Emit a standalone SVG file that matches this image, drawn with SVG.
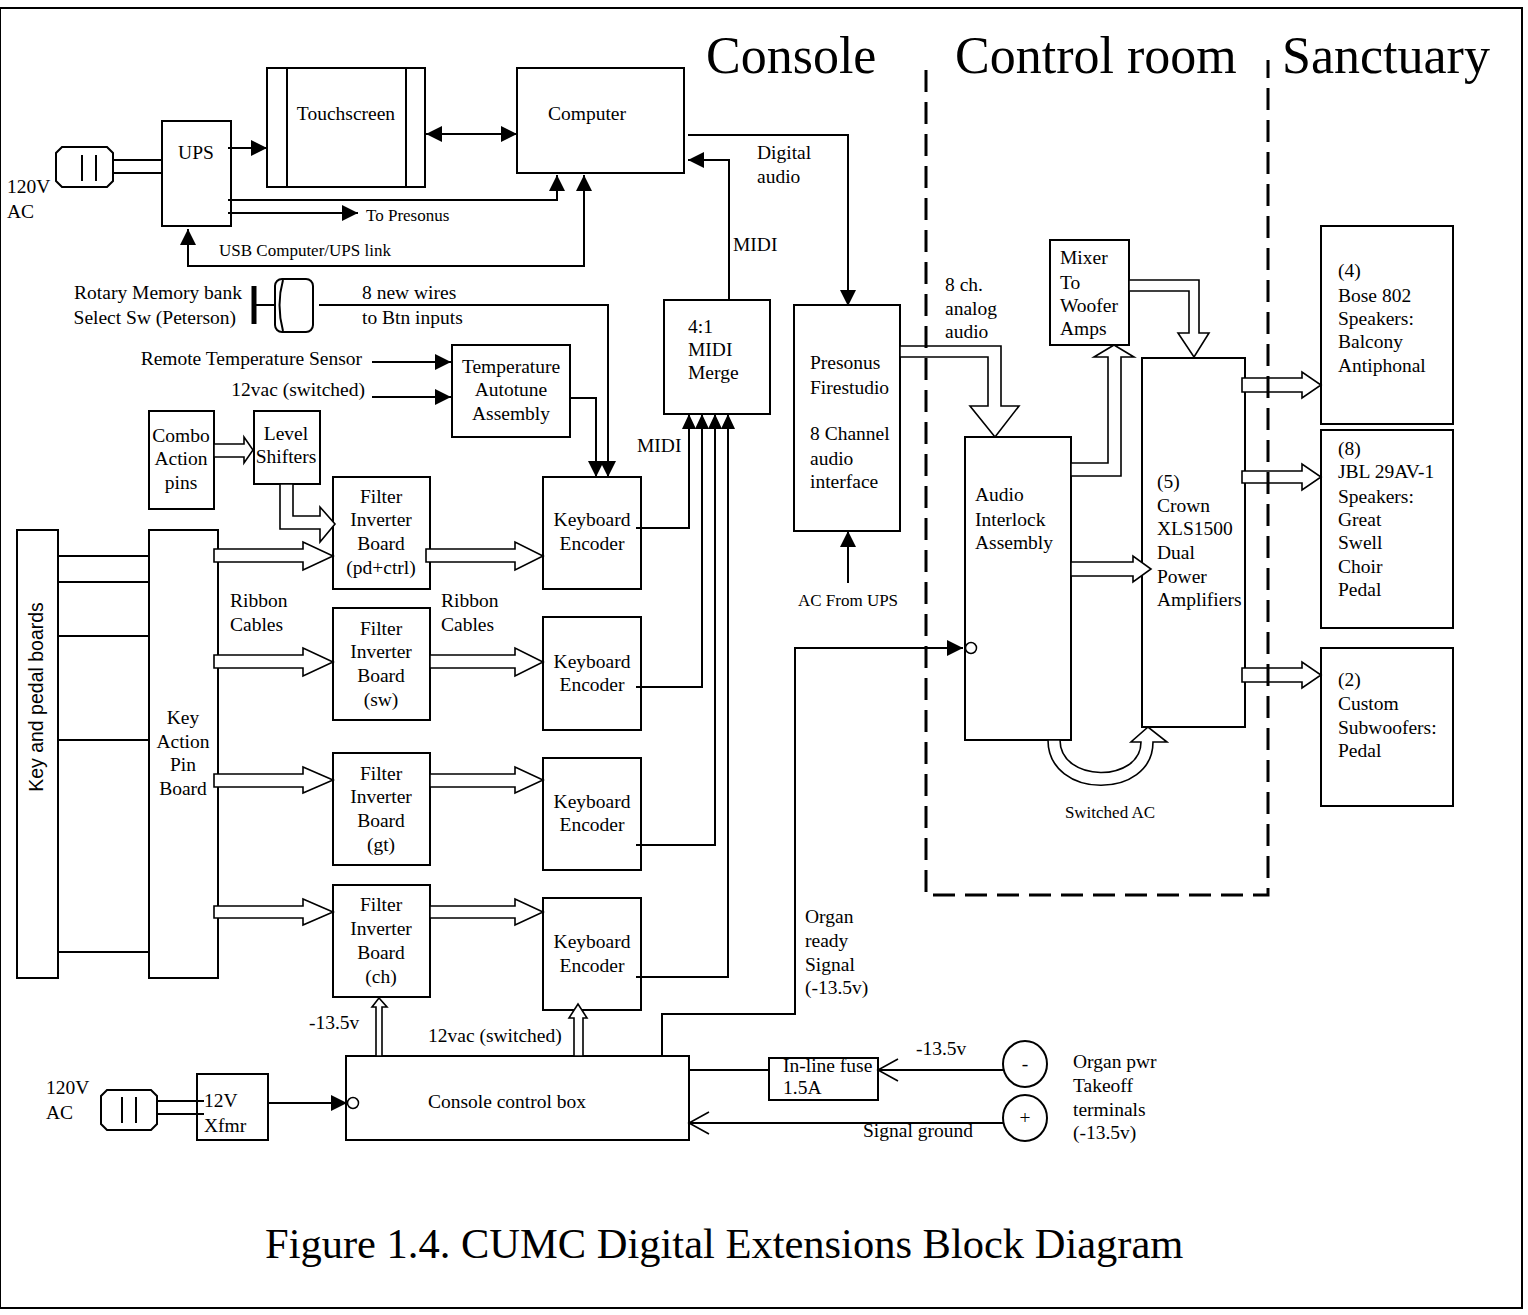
<svg xmlns="http://www.w3.org/2000/svg" width="1528" height="1315" viewBox="0 0 1528 1315">
<style>
.box{fill:#fff;stroke:#000;stroke-width:2}
.ln{fill:none;stroke:#000;stroke-width:2}
.blk{fill:#fff;stroke:#000;stroke-width:1.6;stroke-linejoin:miter}
.dash{fill:none;stroke:#000;stroke-width:3;stroke-dasharray:22 10}
text{font-family:"Liberation Serif","Times New Roman",serif;font-size:19.5px;fill:#000}
.s{font-size:17px}
.c{text-anchor:middle}
.e{text-anchor:end}
.h{font-size:52px}
.cap{font-size:42.5px}
.sans{font-family:"Liberation Sans",Arial,sans-serif;font-size:19.5px}
</style>
<defs>
<marker id="arr" markerUnits="userSpaceOnUse" markerWidth="17" markerHeight="17" refX="16" refY="8" orient="auto-start-reverse"><path d="M0,0 L16,8 L0,16 Z" fill="#000"/></marker>
<marker id="arrs" markerUnits="userSpaceOnUse" markerWidth="16" markerHeight="15" refX="15" refY="7" orient="auto"><path d="M0,0 L15,7 L0,14 Z" fill="#000"/></marker>
<marker id="open" markerUnits="userSpaceOnUse" markerWidth="24" markerHeight="26" refX="21" refY="12" orient="auto"><path d="M1,1 L21,12 L1,23" fill="none" stroke="#000" stroke-width="1.6"/></marker>
</defs>
<rect x="0" y="8" width="1522" height="1300" fill="none" stroke="#000" stroke-width="2"/>

<g id="headers">
<text class="h" x="706" y="73">Console</text>
<text class="h" x="955" y="73">Control room</text>
<text class="h" x="1282" y="73">Sanctuary</text>
</g>

<g id="plug-top">
<path class="box" d="M62,147 L107,147 L113,153 L113,181 L107,187 L62,187 L56,181 L56,153 Z"/>
<line class="ln" x1="82" y1="155" x2="82" y2="181"/><line class="ln" x1="96" y1="155" x2="96" y2="181"/>
<text x="7" y="193">120V</text><text x="7" y="218">AC</text>
</g>
<g id="ups"><rect class="box" x="162" y="121" width="69" height="105"/><text class="c" x="196" y="159">UPS</text></g>
<g id="touchscreen"><rect class="box" x="267" y="68" width="158" height="119"/><line class="ln" x1="287" y1="68" x2="287" y2="187"/><line class="ln" x1="406" y1="68" x2="406" y2="187"/><text class="c" x="346" y="120">Touchscreen</text></g>
<g id="computer"><rect class="box" x="517" y="68" width="167" height="105"/><text class="c" x="587" y="120">Computer</text></g>

<g id="rotary-switch">
<text class="e" x="242" y="299">Rotary Memory bank</text><text class="e" x="236" y="324">Select Sw (Peterson)</text>
<line x1="254" y1="286" x2="254" y2="324" stroke="#000" stroke-width="5"/>
<line class="ln" x1="254" y1="305" x2="276" y2="305"/>
<rect class="box" x="275" y="279" width="38" height="53" rx="7"/>
<path class="ln" d="M283,280 Q276,305 283,331"/>
</g>
<g id="temperature"><rect class="box" x="452" y="345" width="118" height="92"/><text class="c" x="511" y="373">Temperature</text><text class="c" x="511" y="396">Autotune</text><text class="c" x="511" y="420">Assembly</text></g>
<g id="combo"><rect class="box" x="149" y="411" width="65" height="98"/><text class="c" x="181" y="442">Combo</text><text class="c" x="181" y="465">Action</text><text class="c" x="181" y="489">pins</text></g>
<g id="level-shifters"><rect class="box" x="254" y="411" width="66" height="73"/><text class="c" x="286" y="440">Level</text><text class="c" x="286" y="463">Shifters</text></g>

<g id="key-pedal-boards"><rect class="box" x="17" y="530" width="41" height="448"/><text class="sans c" transform="translate(43,697) rotate(-90)">Key and pedal boards</text></g>
<g id="key-action-pin-board"><rect class="box" x="149" y="530" width="69" height="448"/><text class="c" x="183" y="724">Key</text><text class="c" x="183" y="748">Action</text><text class="c" x="183" y="771">Pin</text><text class="c" x="183" y="795">Board</text></g>

<g id="filter-pd"><rect class="box" x="333" y="477" width="97" height="112"/><text class="c" x="381" y="503">Filter</text><text class="c" x="381" y="526">Inverter</text><text class="c" x="381" y="550">Board</text><text class="c" x="381" y="574">(pd+ctrl)</text></g>
<g id="filter-sw"><rect class="box" x="333" y="608" width="97" height="112"/><text class="c" x="381" y="635">Filter</text><text class="c" x="381" y="658">Inverter</text><text class="c" x="381" y="682">Board</text><text class="c" x="381" y="706">(sw)</text></g>
<g id="filter-gt"><rect class="box" x="333" y="753" width="97" height="112"/><text class="c" x="381" y="780">Filter</text><text class="c" x="381" y="803">Inverter</text><text class="c" x="381" y="827">Board</text><text class="c" x="381" y="851">(gt)</text></g>
<g id="filter-ch"><rect class="box" x="333" y="885" width="97" height="112"/><text class="c" x="381" y="911">Filter</text><text class="c" x="381" y="935">Inverter</text><text class="c" x="381" y="959">Board</text><text class="c" x="381" y="983">(ch)</text></g>

<g id="encoder-1"><rect class="box" x="543" y="477" width="98" height="112"/><text class="c" x="592" y="526">Keyboard</text><text class="c" x="592" y="550">Encoder</text></g>
<g id="encoder-2"><rect class="box" x="543" y="617" width="98" height="113"/><text class="c" x="592" y="668">Keyboard</text><text class="c" x="592" y="691">Encoder</text></g>
<g id="encoder-3"><rect class="box" x="543" y="758" width="98" height="112"/><text class="c" x="592" y="808">Keyboard</text><text class="c" x="592" y="831">Encoder</text></g>
<g id="encoder-4"><rect class="box" x="543" y="898" width="98" height="112"/><text class="c" x="592" y="948">Keyboard</text><text class="c" x="592" y="972">Encoder</text></g>

<g id="midi-merge"><rect class="box" x="664" y="300" width="106" height="114"/><text x="688" y="333">4:1</text><text x="688" y="356">MIDI</text><text x="688" y="379">Merge</text></g>
<g id="presonus"><rect class="box" x="794" y="305" width="106" height="226"/><text x="810" y="369">Presonus</text><text x="810" y="394">Firestudio</text><text x="810" y="440">8 Channel</text><text x="810" y="465">audio</text><text x="810" y="488">interface</text></g>
<g id="audio-interlock"><rect class="box" x="965" y="437" width="106" height="303"/><text x="975" y="501">Audio</text><text x="975" y="526">Interlock</text><text x="975" y="549">Assembly</text></g>
<g id="mixer"><rect class="box" x="1050" y="240" width="79" height="105"/><text x="1060" y="264">Mixer</text><text x="1060" y="289">To</text><text x="1060" y="312">Woofer</text><text x="1060" y="335">Amps</text></g>
<g id="crown"><rect class="box" x="1142" y="358" width="103" height="369"/><text x="1157" y="488">(5)</text><text x="1157" y="512">Crown</text><text x="1157" y="535">XLS1500</text><text x="1157" y="559">Dual</text><text x="1157" y="583">Power</text><text x="1157" y="606">Amplifiers</text></g>
<g id="bose"><rect class="box" x="1321" y="226" width="132" height="198"/><text x="1338" y="277">(4)</text><text x="1338" y="302">Bose 802</text><text x="1338" y="325">Speakers:</text><text x="1338" y="348">Balcony</text><text x="1338" y="372">Antiphonal</text></g>
<g id="jbl"><rect class="box" x="1321" y="430" width="132" height="198"/><text x="1338" y="455">(8)</text><text x="1338" y="478">JBL 29AV-1</text><text x="1338" y="503">Speakers:</text><text x="1338" y="526">Great</text><text x="1338" y="549">Swell</text><text x="1338" y="573">Choir</text><text x="1338" y="596">Pedal</text></g>
<g id="subwoofers"><rect class="box" x="1321" y="648" width="132" height="158"/><text x="1338" y="686">(2)</text><text x="1338" y="710">Custom</text><text x="1338" y="734">Subwoofers:</text><text x="1338" y="757">Pedal</text></g>

<g id="plug-bottom">
<path class="box" d="M107,1090 L151,1090 L157,1096 L157,1124 L151,1130 L107,1130 L101,1124 L101,1096 Z"/>
<line class="ln" x1="122" y1="1097" x2="122" y2="1123"/><line class="ln" x1="136" y1="1097" x2="136" y2="1123"/>
<text x="46" y="1094">120V</text><text x="46" y="1119">AC</text>
</g>
<g id="xfmr"><rect class="box" x="197" y="1074" width="71" height="66"/><text x="204" y="1107">12V</text><text x="204" y="1132">Xfmr</text></g>
<g id="console-control-box"><rect class="box" x="346" y="1056" width="343" height="84"/><text class="c" x="507" y="1108">Console control box</text></g>
<g id="fuse"><rect class="box" x="769" y="1058" width="109" height="42"/><text x="783" y="1072">In-line fuse</text><text x="783" y="1094">1.5A</text></g>
<g id="terminals">
<ellipse class="box" cx="1025" cy="1064" rx="22" ry="23"/><text class="c" x="1025" y="1070">-</text>
<ellipse class="box" cx="1025" cy="1118" rx="22" ry="23"/><text class="c" x="1025" y="1124">+</text>
<text x="1073" y="1068">Organ pwr</text><text x="1073" y="1092">Takeoff</text><text x="1073" y="1116">terminals</text><text x="1073" y="1139">(-13.5v)</text>
</g>

<g id="connectors">
<line class="ln" x1="113" y1="160" x2="162" y2="160"/><line class="ln" x1="113" y1="173" x2="162" y2="173"/>
<line class="ln" x1="228" y1="148" x2="267" y2="148" marker-end="url(#arr)"/>
<line class="ln" x1="426" y1="134" x2="517" y2="134" marker-start="url(#arr)" marker-end="url(#arr)"/>
<polyline class="ln" points="228,200 557,200 557,175" marker-end="url(#arr)"/>
<line class="ln" x1="228" y1="213" x2="358" y2="213" marker-end="url(#arr)"/>
<text class="s" x="366" y="221">To Presonus</text>
<polyline class="ln" points="584,175 584,266 188,266 188,229" marker-start="url(#arr)" marker-end="url(#arr)"/>
<text class="s" x="219" y="256">USB Computer/UPS link</text>
<polyline class="ln" points="688,135 848,135 848,306" marker-end="url(#arr)"/>
<text x="757" y="159">Digital</text><text x="757" y="183">audio</text>
<polyline class="ln" points="729,300 729,160 688,160" marker-end="url(#arr)"/>
<text x="733" y="251">MIDI</text>
<polyline class="ln" points="319,305 608,305 608,477" marker-end="url(#arr)"/>
<text x="362" y="299">8 new wires</text><text x="362" y="324">to Btn inputs</text>
<polyline class="ln" points="570,398 596,398 596,477" marker-end="url(#arr)"/>
<line class="ln" x1="372" y1="362" x2="451" y2="362" marker-end="url(#arr)"/>
<text class="e" x="362" y="365">Remote Temperature Sensor</text>
<line class="ln" x1="372" y1="397" x2="451" y2="397" marker-end="url(#arr)"/>
<text class="e" x="365" y="396">12vac (switched)</text>
<polygon class="blk" points="214,444 244,444 244,437 253,450 244,463 244,457 214,457"/>
<polygon class="blk" points="280,484 280,529 320,529 320,542 335,524 320,507 320,516 293,516 293,484"/>
<line class="ln" x1="58" y1="556" x2="149" y2="556"/>
<line class="ln" x1="58" y1="582" x2="149" y2="582"/>
<line class="ln" x1="58" y1="636" x2="149" y2="636"/>
<line class="ln" x1="58" y1="740" x2="149" y2="740"/>
<line class="ln" x1="58" y1="952" x2="149" y2="952"/>
<polygon class="blk" points="214,549 303,549 303,542 333,556 303,570 303,562 214,562"/>
<polygon class="blk" points="214,655 303,655 303,648 333,662 303,676 303,668 214,668"/>
<polygon class="blk" points="214,774 303,774 303,767 333,780 303,793 303,787 214,787"/>
<polygon class="blk" points="214,906 303,906 303,899 333,912 303,925 303,918 214,918"/>
<polygon class="blk" points="426,549 515,549 515,542 543,556 515,570 515,562 426,562"/>
<polygon class="blk" points="430,655 515,655 515,648 543,662 515,676 515,668 430,668"/>
<polygon class="blk" points="430,774 515,774 515,767 543,780 515,793 515,787 430,787"/>
<polygon class="blk" points="430,906 515,906 515,899 543,912 515,925 515,918 430,918"/>
<text x="230" y="607">Ribbon</text><text x="230" y="631">Cables</text>
<text x="441" y="607">Ribbon</text><text x="441" y="631">Cables</text>
<polyline class="ln" points="636,528 689,528 689,414" marker-end="url(#arrs)"/>
<polyline class="ln" points="636,687 702,687 702,414" marker-end="url(#arrs)"/>
<polyline class="ln" points="636,845 715,845 715,414" marker-end="url(#arrs)"/>
<polyline class="ln" points="636,977 728,977 728,414" marker-end="url(#arrs)"/>
<text x="637" y="452">MIDI</text>
<line class="ln" x1="848" y1="583" x2="848" y2="531" marker-end="url(#arr)"/>
<text class="s c" x="848" y="606">AC From UPS</text>
<polygon class="blk" points="900,346 1001,346 1001,406 1019,406 995,437 970,406 988,406 988,357 900,357"/>
<text x="945" y="291">8 ch.</text><text x="945" y="315">analog</text><text x="945" y="338">audio</text>
<polygon class="blk" points="1071,463 1108,463 1108,357 1094,357 1114,345 1134,357 1121,357 1121,476 1071,476"/>
<polygon class="blk" points="1129,280 1199,280 1199,333 1209,333 1194,357 1178,333 1189,333 1189,291 1129,291"/>
<polygon class="blk" points="1071,562 1133,562 1133,556 1151,569 1133,582 1133,576 1071,576"/>
<polygon class="blk" points="1242,378 1302,378 1302,372 1321,385 1302,398 1302,392 1242,392"/>
<polygon class="blk" points="1242,471 1302,471 1302,464 1321,477 1302,490 1302,483 1242,483"/>
<polygon class="blk" points="1242,668 1302,668 1302,662 1321,675 1302,688 1302,682 1242,682"/>
<path class="blk" d="M1048,740 C1048,800 1153,800 1153,742 L1167,742 L1148,727 L1131,742 L1141,742 C1141,783 1060,783 1060,740 Z"/>
<text class="s c" x="1110" y="818">Switched AC</text>
<polyline class="ln" points="662,1056 662,1014 795,1014 795,648 963,648" marker-end="url(#arr)"/>
<circle cx="971" cy="648" r="5.5" fill="#fff" stroke="#000" stroke-width="1.5"/>
<text x="805" y="923">Organ</text><text x="805" y="947">ready</text><text x="805" y="971">Signal</text><text x="805" y="994">(-13.5v)</text>
<line class="ln" x1="157" y1="1101" x2="204" y2="1101"/><line class="ln" x1="157" y1="1114" x2="204" y2="1114"/>
<line class="ln" x1="268" y1="1103" x2="347" y2="1103" marker-end="url(#arr)"/>
<circle cx="353" cy="1103" r="5.5" fill="#fff" stroke="#000" stroke-width="1.5"/>
<polygon class="blk" points="376,1056 376,1007 372,1007 379,998 387,1007 382,1007 382,1056"/>
<polygon class="blk" points="574,1056 574,1018 569,1018 578,1004 587,1018 583,1018 583,1056"/>
<text x="309" y="1029">-13.5v</text>
<text x="428" y="1042">12vac (switched)</text>
<line class="ln" x1="689" y1="1070" x2="769" y2="1070"/>
<line class="ln" x1="1003" y1="1070" x2="878" y2="1070" marker-end="url(#open)"/>
<text x="916" y="1055">-13.5v</text>
<line class="ln" x1="1003" y1="1123" x2="689" y2="1123" marker-end="url(#open)"/>
<text x="863" y="1137">Signal ground</text>
</g>

<g id="control-room-boundary">
<polyline class="dash" points="926,70 926,895 1268,895 1268,60"/>
</g>

<text class="cap" x="265" y="1258">Figure 1.4. CUMC Digital Extensions Block Diagram</text>
</svg>
